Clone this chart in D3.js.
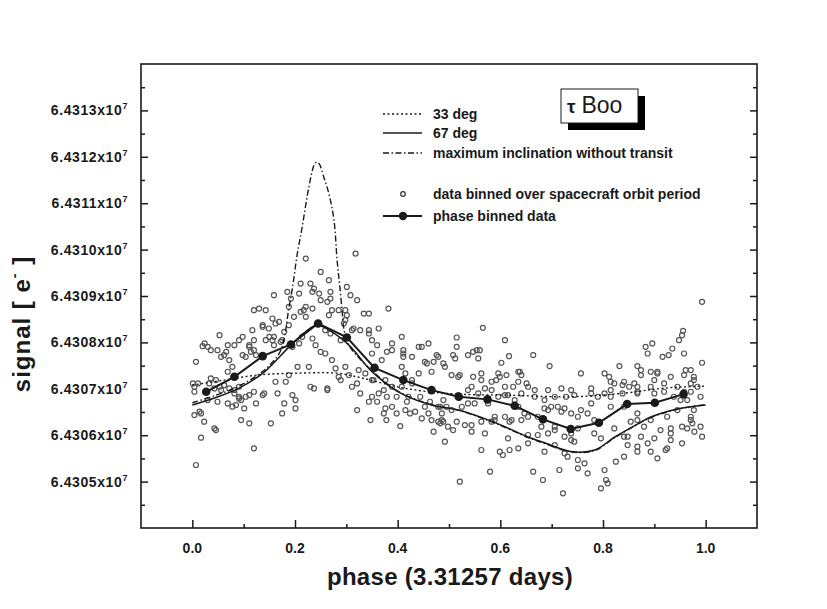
<!DOCTYPE html>
<html lang="en">
<head>
<meta charset="UTF-8">
<title>tau Boo phase curve</title>
<script src="https://cdn.jsdelivr.net/npm/d3@7"></script>
<style>
  body { margin: 0; background: #fff; }
  text { font-family: "Liberation Sans", Arial, Helvetica, sans-serif; fill: #1a1a1a; }
</style>
</head>
<body>
<svg width="827" height="609" id="mainsvg"></svg>
<script>
// ---- data (phase, signal in e-) ----
const xMajor = [0, 0.2, 0.4, 0.6, 0.8, 1.0]
const xMinor = [0.1, 0.3, 0.5, 0.7, 0.9]
const yMajor = [64305000, 64306000, 64307000, 64308000, 64309000, 64310000, 64311000, 64312000, 64313000]
const yMinor = [64304500, 64305500, 64306500, 64307500, 64308500, 64309500, 64310500, 64311500, 64312500, 64313500]

const legendLabels = ['33 deg', '67 deg', 'maximum inclination without transit',
  'data binned over spacecraft orbit period', 'phase binned data']

const deg33 = [[0.000,64307080],[0.062,64307188],[0.126,64307295],[0.208,64307338],[0.281,64307338],
  [0.314,64307274],[0.347,64307188],[0.402,64307037],[0.466,64306929],[0.538,64306876],[0.609,64306865],
  [0.737,64306828],[0.842,64306908],[0.920,64307015],[1.0,64307059]]

const deg67 = [[0.000,64306650],[0.043,64306800],[0.091,64307015],[0.140,64307360],[0.188,64307898],
  [0.217,64308199],[0.241,64308372],[0.266,64308264],[0.305,64307941],[0.349,64307381],[0.402,64306929],
  [0.466,64306650],[0.518,64306542],[0.576,64306330],[0.609,64306182],[0.654,64305961],[0.687,64305832],
  [0.737,64305649],[0.784,64305681],[0.823,64305961],[0.867,64306240],[0.893,64306391],[0.945,64306563],
  [1.0,64306650]]

const maxIncl = [[0.000,64306700],[0.043,64306850],[0.091,64307060],[0.140,64307400],[0.170,64307780],
  [0.179,64308092],[0.188,64308737],[0.195,64309168],[0.204,64309878],[0.214,64310487],[0.227,64311348],
  [0.237,64311815],[0.242,64311886],[0.247,64311852],[0.256,64311563],[0.266,64311206],[0.276,64310632],
  [0.282,64309770],[0.287,64309232],[0.292,64308658],[0.295,64308307],[0.305,64307941],[0.349,64307400],
  [0.402,64306940],[0.466,64306660],[0.518,64306540],[0.576,64306320],[0.609,64306170],[0.654,64305950],
  [0.687,64305820],[0.737,64305640],[0.784,64305670],[0.823,64305950],[0.867,64306230],[0.893,64306380],
  [0.945,64306560],[1.0,64306660]]

const phaseBinned = [[0.027,64306936],[0.082,64307259],[0.137,64307704],[0.192,64307956],[0.245,64308408],
  [0.301,64308107],[0.355,64307452],[0.411,64307188],[0.466,64306972],[0.519,64306828],[0.575,64306772],
  [0.628,64306634],[0.683,64306342],[0.737,64306133],[0.792,64306269],[0.847,64306671],[0.901,64306699],
  [0.957,64306886]]

const orbitBinned = [
  [0.007,64305358],[0.017,64305946],[0.004,64306434],[0.017,64306470],[0.023,64306291],[0.043,64306147],
  [0.046,64306111],[0.004,64307044],[0.004,64306936],[0.011,64307116],[0.007,64307582],[0.020,64307919],
  [0.030,64307905],[0.036,64307833],[0.053,64308156],[0.056,64307690],[0.066,64307797],[0.072,64307618],
  [0.069,64307367],[0.078,64307474],[0.036,64307223],[0.046,64307187],[0.053,64307044],[0.062,64307080],
  [0.072,64307008],[0.082,64306900],[0.091,64306829],[0.095,64306757],[0.085,64306649],[0.095,64306326],
  [0.111,64306255],[0.120,64305717],[0.153,64306255],[0.175,64306470],[0.201,64306578],[0.195,64306865],
  [0.166,64306900],[0.162,64307152],[0.182,64307152],[0.205,64307474],[0.227,64307474],[0.230,64307044],
  [0.263,64307008],[0.285,64307259],[0.305,64307295],[0.327,64306900],[0.344,64306721],[0.347,64306326],
  [0.321,64306542],[0.311,64307044],[0.298,64307474],[0.279,64307439],[0.272,64307618],[0.259,64307761],
  [0.250,64307797],[0.240,64307941],[0.234,64308084],[0.214,64308120],[0.208,64307977],[0.195,64307905],
  [0.175,64308048],[0.159,64308120],[0.143,64308048],[0.137,64308335],[0.149,64308300],[0.162,64308407],
  [0.169,64308443],[0.156,64308515],[0.143,64308694],[0.130,64308730],[0.120,64308694],[0.117,64308264],
  [0.098,64308120],[0.091,64308048],[0.111,64307905],[0.120,64307833],[0.124,64307726],[0.104,64307690],
  [0.159,64309017],[0.185,64309089],[0.192,64308945],[0.188,64308766],[0.208,64309053],[0.217,64308694],
  [0.234,64308730],[0.221,64308551],[0.211,64309268],[0.230,64309268],[0.237,64309161],[0.234,64309089],
  [0.247,64309053],[0.250,64309519],[0.266,64309340],[0.263,64308874],[0.269,64308945],[0.272,64308694],
  [0.285,64308694],[0.298,64308694],[0.301,64309196],[0.308,64309017],[0.321,64308909],[0.298,64308479],
  [0.295,64308407],[0.318,64309914],[0.221,64309806],[0.259,64308264],[0.269,64308192],[0.289,64308048],
  [0.311,64308264],[0.327,64308264],[0.344,64308622],[0.363,64308300],[0.382,64308730],[0.408,64308120],
  [0.411,64307833],[0.389,64307833],[0.408,64307474],[0.415,64307331],[0.428,64307187],[0.447,64307905],
  [0.460,64307977],[0.453,64307582],[0.441,64307331],[0.466,64307367],[0.479,64307690],[0.479,64306613],
  [0.460,64306470],[0.447,64306362],[0.434,64306506],[0.415,64306542],[0.398,64306470],[0.389,64306613],
  [0.376,64306578],[0.350,64306829],[0.363,64306900],[0.379,64306829],[0.421,64306829],[0.466,64306326],
  [0.479,64306291],[0.453,64306613],[0.428,64307116],[0.408,64307044],[0.389,64307044],[0.376,64307187],
  [0.350,64307187],[0.337,64307331],[0.324,64307403],[0.350,64307761],[0.369,64307618],[0.344,64308192],
  [0.350,64308048],
  [0.378,64306326],[0.360,64306721],[0.373,64306470],[0.424,64306470],[0.405,64306197],[0.470,64306075],
  [0.483,64306255],[0.389,64307977],[0.411,64307690],[0.441,64307905],[0.470,64307582],[0.024,64307977],
  [0.069,64307941],[0.111,64307941],[0.156,64308048],[0.172,64308013],[0.120,64306936],[0.137,64306865],
  [0.111,64306865],[0.101,64306578],[0.078,64306614],[0.069,64306685],[0.091,64306793],[0.188,64307295],
  [0.001,64307116],[0.014,64306506],[0.030,64306757],[0.049,64306721],[0.056,64306972],
  [0.049,64307833],[0.062,64307726],[0.082,64307941],[0.098,64307726],[0.114,64307797],[0.120,64308048],
  [0.137,64308371],[0.150,64308120],[0.159,64307941],[0.179,64308228],[0.188,64308371],[0.198,64308551],
  [0.211,64308658],[0.221,64308766],[0.250,64308909],[0.269,64309089],[0.266,64308587],[0.301,64308587],
  [0.314,64308300],[0.334,64308622],[0.344,64308264],[0.360,64307941],[0.379,64307797],[0.411,64307761],
  [0.428,64307690],[0.457,64307546],[0.476,64307726],
  [0.033,64307116],[0.043,64307008],[0.082,64306972],[0.091,64307044],[0.104,64306829],[0.124,64306685],
  [0.140,64306900],[0.179,64306685],[0.201,64306757],[0.237,64307008],[0.263,64306972],[0.289,64307187],
  [0.321,64307116],[0.353,64307187],[0.373,64306972],[0.398,64306829],[0.418,64306721],[0.444,64306829],
  [0.463,64306721],[0.483,64306613],
  [0.566,64308314],[0.515,64308106],[0.515,64307905],[0.508,64307726],[0.512,64307654],[0.489,64307546],
  [0.492,64307474],[0.505,64307295],[0.518,64307259],[0.537,64307726],[0.547,64307797],[0.554,64307833],
  [0.560,64307833],[0.557,64307654],[0.609,64308048],[0.617,64307704],[0.602,64307561],[0.599,64307259],
  [0.612,64307295],[0.664,64307726],[0.696,64307489],[0.638,64307367],[0.641,64307295],[0.635,64307152],
  [0.651,64307116],[0.654,64307044],[0.625,64307044],[0.609,64307044],[0.583,64307152],[0.563,64307331],
  [0.544,64307044],[0.570,64307008],[0.592,64307187],[0.757,64307331],[0.832,64307489],[0.803,64307331],
  [0.812,64307259],[0.822,64307116],[0.841,64307152],[0.851,64307044],[0.861,64307116],[0.867,64307044],
  [0.896,64307977],[0.883,64307905],[0.887,64307761],[0.867,64307489],[0.874,64307403],[0.893,64307367],
  [0.906,64307367],[0.916,64307690],[0.928,64307726],[0.935,64307869],[0.948,64308048],[0.958,64307761],
  [0.954,64308156],[0.956,64308249],[0.993,64308874],[0.993,64307561],[0.961,64307403],[0.971,64307403],
  [0.977,64307259],[0.932,64307259],[0.919,64307116],[0.900,64307187],[0.945,64307044],[0.958,64306936],
  [0.971,64307116],[0.984,64307044],[0.990,64306829],[0.977,64306542],[0.971,64306398],[0.990,64306183],
  [0.993,64305968],[0.964,64306147],[0.954,64305824],[0.932,64305896],[0.925,64305717],[0.906,64305501],
  [0.893,64305645],[0.887,64305824],[0.880,64306183],[0.867,64306326],[0.854,64306291],[0.848,64305968],
  [0.867,64305752],[0.841,64305537],[0.825,64305430],[0.803,64305250],[0.806,64305035],[0.796,64304856],
  [0.809,64304963],[0.770,64305178],[0.751,64305286],[0.764,64305394],[0.722,64304748],[0.715,64305250],
  [0.683,64305035],[0.664,64305214],[0.580,64305214],[0.521,64304999],[0.492,64305860],[0.563,64305681],
  [0.599,64305645],[0.605,64305573],[0.618,64305681],[0.635,64305717],[0.654,64305824],[0.673,64306004],
  [0.680,64306183],[0.693,64306039],[0.706,64306183],[0.725,64305968],[0.738,64305896],[0.744,64305860],
  [0.731,64305537],[0.725,64305609],[0.751,64306398],[0.770,64306470],[0.783,64306326],[0.757,64306542],
  [0.738,64306470],[0.719,64306506],[0.712,64306613],[0.699,64306613],[0.686,64306578],[0.673,64306398],
  [0.654,64306398],[0.647,64306470],[0.635,64306613],[0.622,64306326],[0.609,64306398],[0.589,64306398],
  [0.583,64306291],[0.563,64306291],[0.544,64306219],[0.531,64306219],[0.515,64306291],[0.498,64306183],
  [0.489,64306291],[0.486,64306470],[0.495,64306613],[0.505,64306542],[0.525,64306613],[0.537,64306685],
  [0.550,64306685],[0.576,64306685],[0.596,64306829],[0.615,64306865],[0.628,64306757],[0.667,64306829],
  [0.686,64306757],[0.706,64306829],[0.728,64306829],[0.744,64306865],[0.777,64306900],[0.790,64306829],
  [0.803,64306900],[0.815,64306829],[0.838,64306900],[0.867,64306936],[0.893,64307044],[0.919,64306936],
  [0.938,64306829],[0.951,64306757],[0.964,64306757],[0.971,64306936],
  [0.751,64305465],[0.867,64305645],[0.922,64305681],[0.848,64305788],[0.912,64306111],[0.932,64306039],
  [0.974,64306255],[0.706,64305788],[0.686,64305645],
  [0.521,64307295],[0.547,64307259],[0.563,64307187],[0.596,64307331],[0.635,64307367],[0.815,64307152],
  [0.838,64307080],[0.874,64307295],[0.906,64307331],[0.958,64307295],[0.977,64307187],
  [0.489,64306757],[0.486,64306326],[0.508,64306111],[0.544,64306075],[0.570,64306039],[0.615,64305932],
  [0.654,64306004],[0.589,64306326],[0.618,64306291],[0.641,64306326],[0.693,64306542],[0.725,64306578],
  [0.777,64306685],[0.815,64306613],[0.841,64306613],[0.867,64306470],[0.893,64306326],[0.925,64306398],
  [0.945,64306542],[0.971,64306326],[0.978,64306075],[0.706,64306111],[0.738,64306039],[0.751,64306147],
  [0.783,64306039],[0.796,64305932],[0.822,64306147],[0.841,64305968],[0.874,64305968],[0.900,64305932],
  [0.932,64306147],[0.954,64306183],
  [0.518,64306865],[0.537,64306972],[0.557,64306900],[0.583,64306972],[0.609,64306865],[0.641,64306900],
  [0.667,64306972],[0.693,64306972],[0.719,64307008],[0.738,64306972],[0.777,64307008],[0.815,64306972],
  [0.867,64306900],[0.900,64306900]
]

// ---- layout ----
const svg = d3.select('#mainsvg')
const x = d3.scaleLinear().domain([-0.1, 1.1]).range([141, 757])
const y = d3.scaleLinear().domain([64304000, 64314000]).range([528, 64])
const ink = '#1a1a1a'

svg.append('rect').attr('width', 827).attr('height', 609).attr('fill', '#fff')

// ticks (inward, left/right/bottom)
const g = svg.append('g')
function ticks(axis, pos) {
  const a = g.append('g').attr('transform', pos).call(axis)
  a.select('.domain').remove()
  a.selectAll('.tick line').attr('stroke', ink).attr('stroke-width', 1.5)
  a.selectAll('.tick text').remove()
}
ticks(d3.axisLeft(y).tickValues(yMajor).tickSize(-7), 'translate(141,0)')
ticks(d3.axisLeft(y).tickValues(yMinor).tickSize(-4), 'translate(141,0)')
ticks(d3.axisRight(y).tickValues(yMajor).tickSize(-7), 'translate(757,0)')
ticks(d3.axisRight(y).tickValues(yMinor).tickSize(-4), 'translate(757,0)')
ticks(d3.axisBottom(x).tickValues(xMajor).tickSize(-8), 'translate(0,528)')
ticks(d3.axisBottom(x).tickValues(xMinor).tickSize(-4), 'translate(0,528)')

// frame
svg.append('rect').attr('x', 141).attr('y', 64).attr('width', 616).attr('height', 464)
  .attr('fill', 'none').attr('stroke', ink).attr('stroke-width', 1.6)

// tick labels
svg.selectAll('.xlab').data(xMajor).join('text')
  .attr('x', d => x(d)).attr('y', 553)
  .attr('text-anchor', 'middle').attr('font-size', 14).attr('font-weight', 'bold')
  .text(d => d.toFixed(1))

const yl = svg.selectAll('.ylab').data(yMajor).join('text')
  .attr('x', 128).attr('y', d => y(d) + 5)
  .attr('text-anchor', 'end').attr('font-size', 14).attr('font-weight', 'bold')
  .attr('letter-spacing', 0.6)
yl.append('tspan').text(d => (d / 1e7).toFixed(4) + 'x10')
yl.append('tspan').attr('font-size', 9).attr('dy', -6).text('7')

// axis titles
svg.append('text').attr('x', 450).attr('y', 585)
  .attr('text-anchor', 'middle').attr('font-size', 24).attr('font-weight', 'bold')
  .attr('letter-spacing', 0.3)
  .text('phase (3.31257 days)')
const yt = svg.append('text').attr('transform', 'translate(30,324) rotate(-90)')
  .attr('text-anchor', 'middle').attr('font-size', 24).attr('font-weight', 'bold')
  .attr('letter-spacing', 1)
yt.append('tspan').text('signal [ e')
yt.append('tspan').attr('font-size', 14).attr('dy', -11).text('-')
yt.append('tspan').attr('dy', 11).text(' ]')

// models
const line = d3.line().x(d => x(d[0])).y(d => y(d[1])).curve(d3.curveCatmullRom)
const plot = svg.append('g')

// scatter of orbit-binned data
plot.selectAll('.pt').data(orbitBinned).join('circle')
  .attr('cx', d => x(d[0])).attr('cy', d => y(d[1])).attr('r', 2.5)
  .attr('fill', 'none').attr('stroke', '#555').attr('stroke-width', 1.2)

plot.append('path').datum(deg33).attr('d', line).attr('fill', 'none')
  .attr('stroke', ink).attr('stroke-width', 1.4).attr('stroke-dasharray', '2,2.5')
plot.append('path').datum(deg67).attr('d', line).attr('fill', 'none')
  .attr('stroke', ink).attr('stroke-width', 1.5)
plot.append('path').datum(maxIncl).attr('d', line).attr('fill', 'none')
  .attr('stroke', ink).attr('stroke-width', 1.4).attr('stroke-dasharray', '6,2.5,1.5,2.5')

// phase binned data
plot.append('path').datum(phaseBinned).attr('d', d3.line().x(d => x(d[0])).y(d => y(d[1])))
  .attr('fill', 'none').attr('stroke', ink).attr('stroke-width', 2)
plot.selectAll('.bin').data(phaseBinned).join('circle')
  .attr('cx', d => x(d[0])).attr('cy', d => y(d[1])).attr('r', 4.3).attr('fill', ink)

// legend
const lg = svg.append('g')
const rows = [119, 138, 158, 199, 221]
const dashes = ['2,2.5', null, '6,2.5,1.5,2.5']
dashes.forEach((dsh, i) => {
  lg.append('line').attr('x1', 383).attr('x2', 422).attr('y1', rows[i] - 5).attr('y2', rows[i] - 5)
    .attr('stroke', ink).attr('stroke-width', 1.3).attr('stroke-dasharray', dsh)
})
lg.append('circle').attr('cx', 403).attr('cy', rows[3] - 5).attr('r', 2.3)
  .attr('fill', 'none').attr('stroke', '#333').attr('stroke-width', 1.2)
lg.append('line').attr('x1', 383).attr('x2', 422).attr('y1', rows[4] - 5).attr('y2', rows[4] - 5)
  .attr('stroke', ink).attr('stroke-width', 1.8)
lg.append('circle').attr('cx', 403).attr('cy', rows[4] - 5).attr('r', 4.2).attr('fill', ink)
legendLabels.forEach((t, i) => {
  lg.append('text').attr('x', 433).attr('y', rows[i])
    .attr('font-size', 14).attr('font-weight', 'bold').text(t)
})

// tau Boo box with shadow
svg.append('rect').attr('x', 568).attr('y', 96).attr('width', 77).attr('height', 34).attr('fill', '#000')
svg.append('rect').attr('x', 561).attr('y', 89).attr('width', 77).attr('height', 34)
  .attr('fill', '#fff').attr('stroke', ink).attr('stroke-width', 1)
const tb = svg.append('text').attr('x', 567).attr('y', 113).attr('font-size', 23)
tb.append('tspan').attr('font-size', 19).attr('font-weight', 'bold').text('τ')
tb.append('tspan').attr('dx', 6).text('Boo')
</script>
</body>
</html>
